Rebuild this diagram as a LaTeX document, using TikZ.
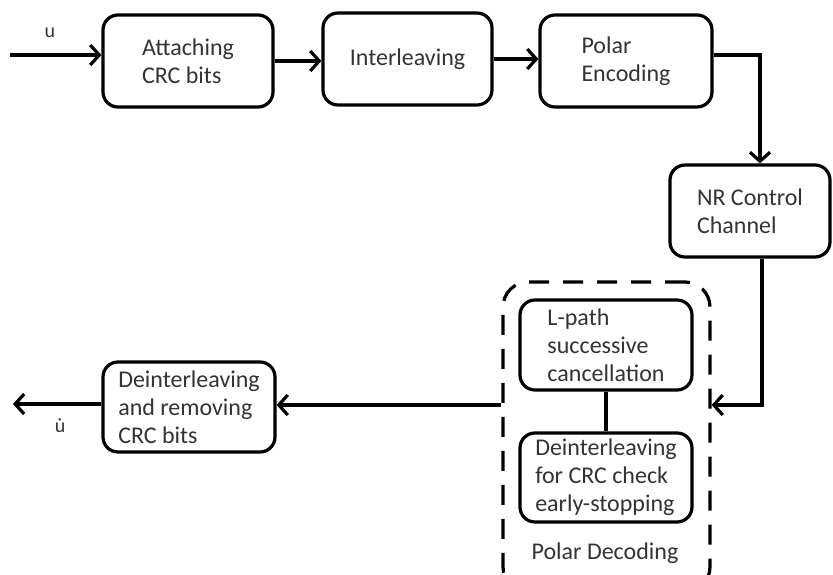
\documentclass[tikz,border=0pt]{standalone}
\usepackage{fontspec}
\setmainfont{Carlito}
\usetikzlibrary{arrows.meta}
\definecolor{ink}{HTML}{333333}
% u with a dot above, built from the spacing dot accent of the main font
\newcommand{\udot}{\accent"02D9 u}
\begin{document}
\begin{tikzpicture}[x=1pt,y=-1pt,
  blk/.style={draw=black, line width=3.2pt, rounded corners=15pt, inner sep=0pt,
    align=left, font=\fontsize{24}{28}\selectfont, text=ink},
  flow/.style={line width=3.2pt, -{Straight Barb[length=9pt,width=20pt,line width=3.2pt]}},
  link/.style={line width=3.2pt},
  grp/.style={draw, line width=3.2pt, dash pattern=on 20pt off 14pt, rounded corners=25pt, inner sep=0pt},
  lbl/.style={text=ink, font=\fontsize{24}{28}\selectfont, inner sep=0pt},
  sig/.style={text=ink, font=\fontsize{20}{24}\selectfont, inner sep=0pt}]
\useasboundingbox (0,0) rectangle (833,575);

% transmitter chain
\node[blk, minimum width=170pt, minimum height=92pt] (b1) at (188,61) {Attaching\\CRC bits};
\node[blk, minimum width=169pt, minimum height=92pt] (b2) at (407.5,59) {Interleaving};
\node[blk, minimum width=172pt, minimum height=92pt] (b3) at (626,61) {Polar\\Encoding};
\node[blk, minimum width=160pt, minimum height=92pt] (nr) at (750,211) {NR Control\\Channel};

% decoder group
\node[grp, minimum width=207pt, minimum height=310pt] (pd) at (606.5,437) {};
\node[blk, minimum width=172pt, minimum height=90pt] (lp) at (606,345) {L-path\\successive\\cancellation};
\node[blk, minimum width=172pt, minimum height=89pt] (di) at (606,477.5) {Deinterleaving\\for CRC check\\early-stopping};
\node[lbl] (pdl) at (605,553) {Polar Decoding};

% receiver output
\node[blk, minimum width=172pt, minimum height=90pt] (dr) at (189,407) {Deinterleaving\\and removing\\CRC bits};

% signal labels
\node[sig] (ulab) at (50,33) {u};
\node[sig] (uhat) at (60,426) {\udot};

% connectors
\coordinate (in) at (10,55);
\coordinate (bus) at (760,55);
\coordinate (fb) at (762,405);
\coordinate (out) at (13,404);

\draw[flow] (in) -- (in -| b1.west);
\draw[flow] (b1.east) -- (b1.east -| b2.west);
\draw[flow] (b2.east) -- (b2.east -| b3.west);
\draw[flow] (b3.east |- bus) -- (bus) -- (bus |- nr.north);
\draw[flow] (nr.south -| fb) -- (fb) -- (fb -| pd.east);
\draw[flow] (pd.west |- fb) -- (dr.east |- fb);
\draw[flow] (dr.west |- out) -- (out);
\draw[link] (lp.south) -- (di.north);
\end{tikzpicture}
\end{document}
